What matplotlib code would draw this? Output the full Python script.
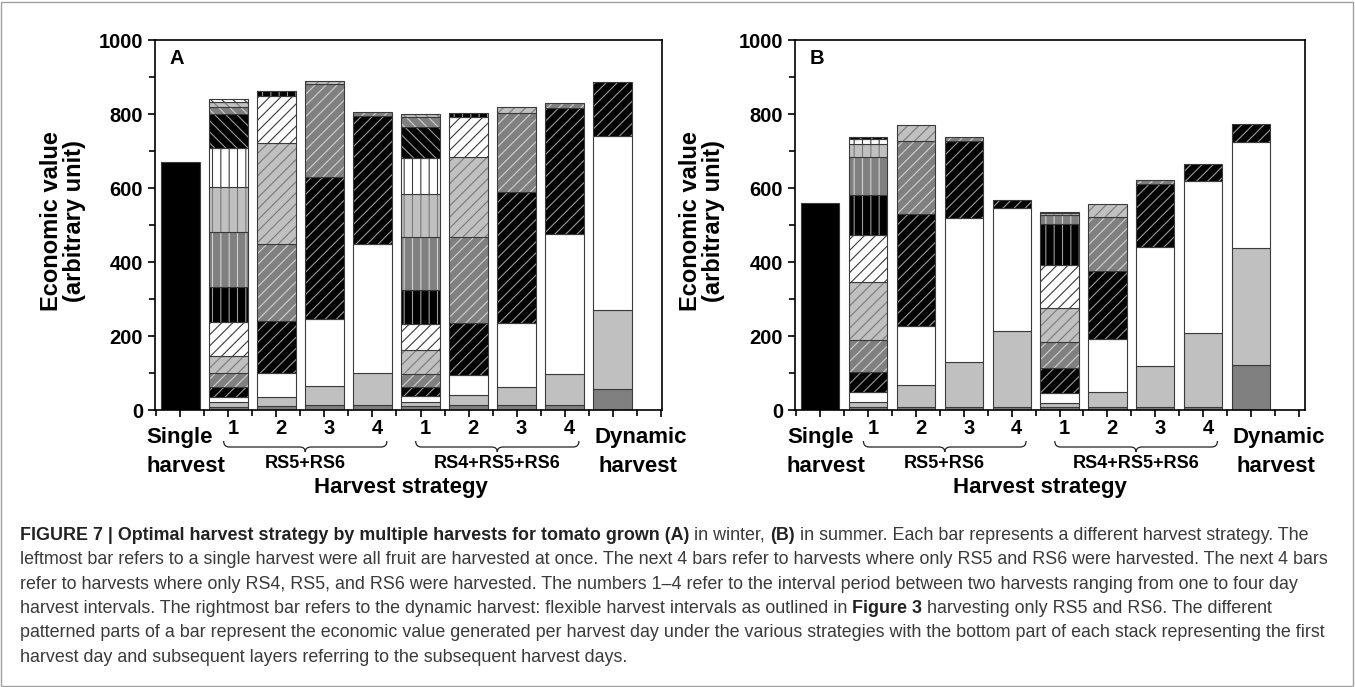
import matplotlib
matplotlib.use("Agg")
import matplotlib.pyplot as plt
from matplotlib.path import Path
from matplotlib.patches import PathPatch, Rectangle
from matplotlib.transforms import IdentityTransform

plt.rcParams["font.family"] = ["Liberation Sans", "DejaVu Sans"]
plt.rcParams["hatch.linewidth"] = 0.8

W, H = 1355, 687

# economic value per harvest day, first entry = first harvest day (bottom of stack)
interval_labels = ["1", "2", "3", "4"]
group_labels = ["RS5+RS6", "RS4+RS5+RS6"]

# (A) winter
winter_single = [671]
winter_rs56_1 = [8, 14, 12, 29, 36, 47, 93, 93, 150, 122, 103, 93, 18, 14, 8]
winter_rs56_2 = [11, 25, 63, 141, 210, 272, 127, 13]
winter_rs56_3 = [14, 51, 180, 386, 250, 8]
winter_rs56_4 = [14, 87, 349, 345, 11]
winter_rs456_1 = [12, 9, 16, 25, 35, 65, 70, 92, 144, 115, 97, 86, 25, 9]
winter_rs456_2 = [14, 27, 54, 139, 234, 215, 110, 11]
winter_rs456_3 = [14, 49, 171, 356, 213, 15]
winter_rs456_4 = [14, 83, 380, 338, 14]
winter_dynamic = [56, 214, 470, 146]

# (B) summer
summer_single = [560]
summer_rs56_1 = [9, 13, 27, 53, 87, 158, 126, 108, 104, 33, 14, 6]
summer_rs56_2 = [9, 58, 161, 303, 196, 43]
summer_rs56_3 = [9, 122, 389, 207, 11]
summer_rs56_4 = [9, 205, 333, 20]
summer_rs456_1 = [9, 11, 27, 66, 72, 92, 115, 112, 22, 6, 4]
summer_rs456_2 = [9, 39, 143, 185, 146, 35]
summer_rs456_3 = [9, 111, 321, 170, 10]
summer_rs456_4 = [9, 200, 409, 48]
summer_dynamic = [122, 316, 287, 47]

winter_bars = [winter_single, winter_rs56_1, winter_rs56_2, winter_rs56_3, winter_rs56_4,
               winter_rs456_1, winter_rs456_2, winter_rs456_3, winter_rs456_4, winter_dynamic]
summer_bars = [summer_single, summer_rs56_1, summer_rs56_2, summer_rs56_3, summer_rs56_4,
               summer_rs456_1, summer_rs456_2, summer_rs456_3, summer_rs456_4, summer_dynamic]

FILLS = ["#000000", "#808080", "#c0c0c0", "#ffffff"]
HATCH_COLORS = {"#000000": "#9a9a9a", "#808080": "#d0d0d0",
                "#c0c0c0": "#7a7a7a", "#ffffff": "#3a3a3a"}
HATCHES = ["///", "||", "\\\\\\"]


def layer_style(day):
    if day < 3:
        return ["#808080", "#c0c0c0", "#ffffff"][day], None
    k = day - 3
    return FILLS[k % 4], HATCHES[(k // 4) % 3]


def frac(y_px):
    # pixel row below the x axis -> axes fraction (axis at 410 px, 370 px tall)
    return (410 - y_px) / 370.0


def draw_stack(ax, x, values, single=False):
    bottom = 0
    for day, v in enumerate(values):
        face, hatch = ("#000000", None) if single else layer_style(day)
        ax.bar(x, v, bottom=bottom, width=0.8, color=face, hatch=hatch,
               edgecolor=HATCH_COLORS[face], linewidth=0)
        ax.bar(x, v, bottom=bottom, width=0.8, fill=False,
               edgecolor="#3a3a3a", linewidth=0.8)
        bottom += v


def draw_brace(ax, x0, x1):
    tr = ax.get_xaxis_transform()
    ytop, yline, ytip = frac(441), frac(447), frac(452)
    xm = (x0 + x1) / 2
    d = 0.12
    verts = [(x0, ytop), (x0, yline), (x0 + d, yline),
             (xm - d, yline),
             (xm, yline), (xm, ytip),
             (xm, yline), (xm + d, yline),
             (x1 - d, yline),
             (x1, yline), (x1, ytop)]
    codes = [Path.MOVETO, Path.CURVE3, Path.CURVE3,
             Path.LINETO,
             Path.CURVE3, Path.CURVE3,
             Path.CURVE3, Path.CURVE3,
             Path.LINETO,
             Path.CURVE3, Path.CURVE3]
    ax.add_patch(PathPatch(Path(verts, codes), fill=False, edgecolor="#222222",
                           linewidth=0.9, transform=tr, clip_on=False))


def draw_panel(ax, bars, letter, xmax):
    for i, vals in enumerate(bars):
        draw_stack(ax, i, vals, single=(i == 0))
    ax.set_xlim(-0.53, xmax)
    ax.set_ylim(0, 1000)
    ax.set_yticks(range(0, 1001, 200))
    ax.set_yticks(range(100, 1000, 200), minor=True)
    ax.set_xticks(range(0, 11))
    ax.set_xticks([i + 0.5 for i in range(-1, 10)], minor=True)
    ax.set_xticklabels([])
    ax.tick_params(which="both", direction="out", width=1.2, labelsize=14.5)
    ax.tick_params(which="major", length=5)
    ax.tick_params(which="minor", length=4)
    for lab in ax.get_yticklabels():
        lab.set_fontweight("bold")
    for sp in ax.spines.values():
        sp.set_linewidth(1.2)

    ax.text(0.028, 0.975, letter, transform=ax.transAxes, fontsize=14.5,
            fontweight="bold", va="top", ha="left")
    ax.text(-92 / 507, 0.51, "Economic value\n(arbitrary unit)", transform=ax.transAxes,
            rotation=90, ha="center", va="center", fontsize=17, fontweight="bold",
            linespacing=1.0)

    tr = ax.get_xaxis_transform()
    for g, start in enumerate([1, 5]):
        for j, lab in enumerate(interval_labels):
            ax.text(start + j + 0.1, frac(429), lab, transform=tr, ha="center",
                    va="center", fontsize=14.5, fontweight="bold", clip_on=False)
        draw_brace(ax, start - 0.1, start + 3.3)
        ax.text(start + 1.6, frac(464), group_labels[g], transform=tr, ha="center",
                va="center", fontsize=13, fontweight="bold")
    ax.text(-0.7, frac(438), "Single", transform=tr, ha="left", va="center",
            fontsize=16, fontweight="bold")
    ax.text(-0.7, frac(467), "harvest", transform=tr, ha="left", va="center",
            fontsize=16, fontweight="bold")
    ax.text(9 - 0.38, frac(438), "Dynamic", transform=tr, ha="left", va="center",
            fontsize=16, fontweight="bold")
    ax.text(9 - 0.3, frac(467), "harvest", transform=tr, ha="left", va="center",
            fontsize=16, fontweight="bold")
    ax.text(4.6, frac(487), "Harvest strategy", transform=tr, ha="center",
            va="center", fontsize=16, fontweight="bold")


fig = plt.figure(figsize=(W / 100, H / 100), dpi=100)
ax_a = fig.add_axes([155 / W, 1 - 410 / H, 507 / W, 370 / H])
ax_b = fig.add_axes([795 / W, 1 - 410 / H, 510 / W, 370 / H])
draw_panel(ax_a, winter_bars, "A", 10.03)
draw_panel(ax_b, summer_bars, "B", 10.13)

# caption
caption = [
    [("FIGURE 7 | Optimal harvest strategy by multiple harvests for tomato grown (A)", True),
     (" in winter,", False), (" (B)", True),
     (" in summer. Each bar represents a different harvest strategy. The", False)],
    [("leftmost bar refers to a single harvest were all fruit are harvested at once. The next 4 bars "
      "refer to harvests where only RS5 and RS6 were harvested. The next 4 bars", False)],
    [("refer to harvests where only RS4, RS5, and RS6 were harvested. The numbers 1\u20134 refer to "
      "the interval period between two harvests ranging from one to four day", False)],
    [("harvest intervals. The rightmost bar refers to the dynamic harvest: flexible harvest "
      "intervals as outlined in", False), (" Figure 3", True),
     (" harvesting only RS5 and RS6. The different", False)],
    [("patterned parts of a bar represent the economic value generated per harvest day under the "
      "various strategies with the bottom part of each stack representing the first", False)],
    [("harvest day and subsequent layers referring to the subsequent harvest days.", False)],
]
caption_rows = [540, 564, 589, 613, 637, 662]

renderer = fig.canvas.get_renderer()


def text_width(s, size, weight="normal"):
    t = fig.text(0, 0, s, fontsize=size, fontweight=weight)
    w = t.get_window_extent(renderer).width
    t.remove()
    return w


cap_size = 10 * 1315 / text_width(caption[4][0][0], 10)
space_w = text_width("x x", cap_size) - text_width("xx", cap_size)

for row, pieces in zip(caption_rows, caption):
    x = 20
    for s, bold in pieces:
        if s.startswith(" "):
            x += space_w
            s = s[1:]
        t = fig.text(x, H - row, s, transform=IdentityTransform(), fontsize=cap_size,
                     fontweight="bold" if bold else "normal",
                     color="#222222" if bold else "#3a3a3a", ha="left", va="baseline")
        x = t.get_window_extent(renderer).x1

fig.add_artist(Rectangle((1, 1), W - 3, H - 3, transform=IdentityTransform(),
                         fill=False, edgecolor="#a0a0a0", linewidth=1))

fig.savefig("out.png", dpi=100)
